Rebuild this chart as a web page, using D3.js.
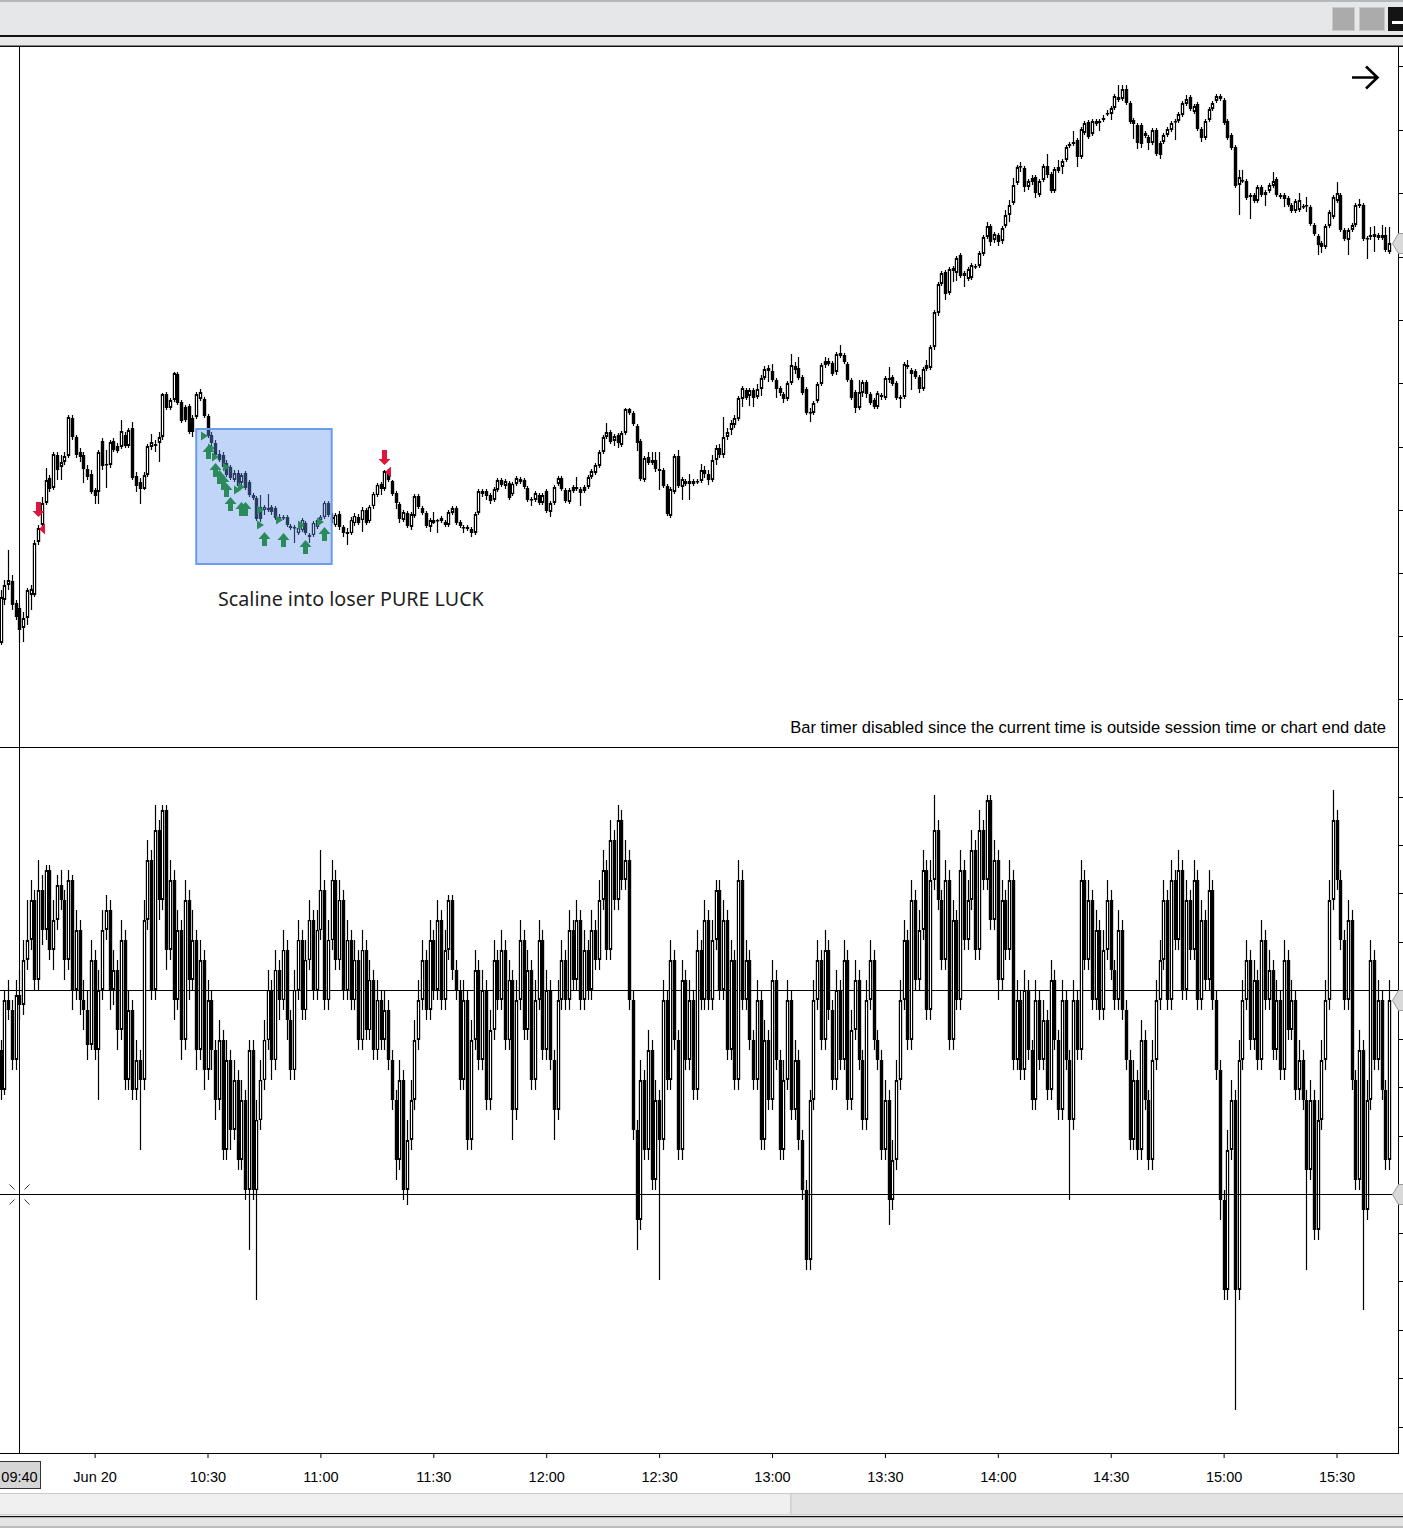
<!DOCTYPE html>
<html><head><meta charset="utf-8">
<script src="https://cdn.jsdelivr.net/npm/d3@7"></script>
<style>html,body{margin:0;padding:0;background:#fff;overflow:hidden}svg{display:block}</style>
</head><body>
<svg id="c" width="1403" height="1528"></svg>
<script>
// ---------------- DATA ----------------
const sessionStart = "09:35";            // first 1-minute bar
const upOpen = [357,400,415,419,397,392,372,382,405,405,458,475,497,522,512,545,533,538,544,582,563,548,545,531,526,510,508,559,535,535,559,554,553,565,554,572,524,518,511,525,553,554,557,563,606,592,600,626,598,593,594,582,583,601,601,584,565,557,546,545,537,533,520,527,517,527,518,505,502,493,490,492,493,492,482,482,483,474,472,467,470,477,465,465,473,480,483,497,483,475,486,473,466,467,477,483,480,490,479,494,505,516,511,529,519,507,496,480,487,473,484,504,492,487,473,477,480,479,478,475,487,492,478,473,471,471,467,487,506,509,505,500,510,520,514,517,506,516,518,520,512,501,500,505,497,509,488,497,516,522,510,498,509,513,511,509,513,523,527,534,548,563,568,559,565,555,567,591,587,574,559,520,543,537,540,531,530,514,484,508,544,513,516,519,516,519,519,530,526,520,540,552,545,563,570,575,581,601,610,604,610,603,611,622,632,629,620,612,606,601,617,634,632,623,611,587,587,599,616,635,639,637,628,647,645,636,620,608,592,607,618,606,600,593,605,602,622,623,617,601,603,635,630,629,623,611,631,632,653,687,716,728,707,732,727,745,724,721,722,733,734,746,763,774,760,765,759,774,785,797,817,833,832,813,818,823,805,820,834,826,809,829,833,840,856,856,860,843,867,878,866,879,877,880,886,886,892,903,901,911,897,880,875,875,867,863,857,870,857,858,865,870,879,879,885,896,903,888,896,871,862,880,891,899,904,900,879,865,853,815,819,819,805,805,799,813,805,809,814,821,805,805,802,795,789,790,794,794,793,775,764,757,753,774,783,799,805,770,760,770,775,796,795,761,763,763,765,762,765,748];
const upHigh = [410,420,450,425,400,395,388,412,415,460,475,503,532,525,548,548,545,548,585,585,565,552,548,535,530,512,550,562,550,560,562,557,580,568,572,578,528,522,528,556,566,560,568,607,608,602,628,628,600,595,596,585,608,611,603,586,568,560,550,548,540,535,530,530,527,529,520,507,504,505,495,506,495,494,486,485,485,476,475,474,482,479,467,479,482,485,499,499,487,487,489,475,472,483,487,486,493,492,495,508,517,518,530,531,520,509,498,490,489,488,506,506,494,489,482,488,481,484,480,490,494,494,480,475,475,473,488,511,511,511,507,513,522,522,521,519,518,524,523,522,514,503,509,507,507,511,499,515,524,524,512,512,515,523,513,515,525,531,537,550,565,577,570,566,567,569,592,592,589,576,561,544,548,548,548,548,532,516,513,546,550,523,521,526,521,521,536,534,530,545,555,556,583,572,580,585,604,614,612,612,612,616,625,634,635,636,622,614,608,619,646,638,643,625,613,592,599,618,637,643,642,639,648,655,647,638,622,610,620,620,620,608,602,609,607,624,633,625,619,605,638,640,632,631,625,633,640,655,690,718,729,730,733,734,744,747,729,733,737,736,749,765,778,776,768,767,774,790,800,822,835,838,834,821,825,825,821,836,846,828,833,840,841,855,858,869,862,873,879,880,881,881,881,885,890,894,906,915,915,915,899,882,877,877,869,865,872,872,859,867,873,879,881,888,899,905,905,896,898,873,881,893,899,906,906,902,881,867,855,830,830,821,807,807,815,815,810,817,828,823,807,807,804,797,801,807,796,803,795,777,766,759,776,790,805,818,807,772,772,777,797,801,797,764,773,774,767,775,773,773];
const upLow = [355,395,410,390,380,357,358,375,390,403,455,472,495,508,510,520,520,535,542,560,542,538,517,520,506,496,496,530,512,532,548,547,551,552,552,520,508,496,510,523,550,548,538,560,590,590,598,595,577,578,566,563,581,599,582,562,554,543,538,530,523,520,518,512,515,510,503,500,479,478,485,488,485,480,478,480,473,470,457,465,468,465,457,463,471,478,481,483,477,473,470,463,455,465,474,475,468,475,477,491,503,505,509,518,504,491,477,478,472,470,482,491,485,472,468,476,467,477,473,473,485,475,472,467,469,463,465,485,503,500,496,498,508,513,511,500,504,514,516,511,498,494,498,495,495,487,483,495,514,509,497,496,507,509,494,507,511,521,525,532,546,561,556,554,552,553,565,585,574,549,519,518,535,535,528,510,512,484,482,506,512,500,514,500,514,516,517,522,515,518,535,542,542,560,565,572,579,593,600,594,593,601,604,620,618,618,602,604,597,599,615,626,620,605,585,578,585,597,614,632,634,624,625,642,636,618,600,587,590,603,602,595,591,591,600,600,617,614,600,592,601,631,610,621,607,609,629,630,650,684,714,700,705,718,719,722,713,719,720,731,732,744,761,754,757,754,756,772,778,795,815,828,808,810,815,802,803,818,822,807,807,827,826,838,852,854,833,841,865,861,864,874,869,878,884,880,890,898,899,895,876,861,851,852,862,850,855,844,841,856,863,868,860,877,883,894,889,886,869,858,860,878,889,897,899,875,860,850,812,785,817,800,781,797,797,803,794,807,812,803,801,793,793,787,787,788,791,788,774,764,745,747,751,772,781,797,768,759,745,768,773,792,759,741,760,748,760,760,748,746];
const upClose = [403,415,420,395,383,370,382,410,411,457,472,497,520,511,546,530,538,544,583,563,545,543,531,523,508,504,548,534,536,558,550,549,569,554,570,522,514,511,525,554,558,556,563,606,592,600,627,597,579,580,568,568,606,608,584,564,557,545,540,533,525,522,527,514,525,512,505,502,481,481,493,490,488,482,483,483,475,472,473,472,480,467,463,477,480,483,497,485,481,485,473,467,468,480,484,477,490,477,493,506,515,511,529,520,506,497,481,488,474,486,504,493,487,474,480,480,479,482,475,488,492,477,474,472,473,467,486,509,509,504,499,511,520,515,519,502,516,522,521,513,500,500,507,497,505,489,497,513,522,511,499,510,513,511,507,513,523,529,535,548,563,568,558,564,557,567,591,587,576,557,521,542,537,540,531,529,514,486,511,544,514,521,519,516,519,518,530,526,520,540,552,545,563,568,577,582,602,612,602,610,602,611,622,631,629,620,611,607,601,617,635,630,622,607,587,588,597,616,635,639,636,626,646,644,638,620,602,592,608,618,606,597,593,607,603,622,620,616,602,603,636,633,626,623,611,631,635,653,688,716,727,706,731,729,742,724,727,731,735,734,747,763,774,758,766,758,772,785,795,815,833,834,813,819,822,807,819,834,825,809,831,833,839,853,854,858,843,871,877,863,879,876,879,882,887,892,904,900,911,897,878,876,857,856,864,857,870,846,845,865,871,877,878,886,897,901,891,894,871,862,879,891,897,904,901,877,862,852,814,823,820,802,803,799,813,805,808,815,819,805,803,801,795,789,799,800,793,795,776,766,755,753,774,788,803,807,770,761,770,775,795,794,761,762,765,766,762,765,750,757];

const lowOpen = [-60,-100,-10,-20,-70,-5,-15,30,50,90,10,100,60,120,40,70,105,90,30,110,0,60,-10,-20,-55,30,-60,0,60,80,0,20,-40,50,-90,-20,-100,-70,-90,70,130,0,160,90,180,40,110,-10,60,-50,90,10,50,-60,30,-80,-10,-60,-110,-50,-160,-70,-140,-90,-170,-110,-200,-60,-200,-130,-90,-50,0,-70,20,-10,40,-30,-80,0,50,-20,30,70,0,60,100,-10,50,110,30,90,0,50,-10,30,-50,40,-40,10,-60,-10,-50,-20,-70,-110,-170,-90,-200,-150,-110,-50,-10,30,-20,50,0,70,-10,40,90,20,0,-90,-10,-150,-50,20,-70,0,-110,-40,30,-10,40,-50,10,-120,-10,50,-40,20,-90,-10,50,-60,0,-70,-120,-10,30,-10,60,10,70,-10,40,0,60,30,90,120,40,150,90,170,110,130,-10,-140,-230,-90,-160,-60,-190,-110,-150,-10,-90,30,-50,-160,10,-70,-10,-100,40,-10,70,-10,50,100,0,70,-60,30,-90,110,-10,30,-50,-90,-10,-150,-50,-110,10,-70,-160,-90,-10,-120,-70,-150,-200,-270,-110,-10,30,-50,40,-20,-90,0,-70,30,-110,-40,10,-70,-130,-10,30,-50,-70,-160,-110,-210,-170,-90,-10,50,-50,90,10,60,120,-20,110,160,90,30,110,-50,70,-10,120,50,90,140,40,160,110,190,70,130,10,90,40,110,-70,-10,-80,0,-60,-110,-10,-70,-30,-100,10,-50,-120,-10,-70,-130,-10,-60,110,30,90,-10,60,-20,40,90,20,-10,60,-20,-70,-150,-90,-160,-50,-110,-170,-70,-10,30,90,-10,110,50,120,0,90,40,110,-10,70,10,100,-10,-80,-210,-300,-160,-110,-300,-70,-10,30,-50,10,-70,50,-10,20,-60,-10,-80,30,-40,-10,-100,-70,-110,-180,-110,-240,-130,-70,-10,90,170,110,50,-10,70,-90,-190,-60,-220,-110,30,-70,-10,-100,-170];
const lowHigh = [-50,0,10,-10,10,20,50,90,110,100,130,115,125,125,90,115,120,100,120,115,80,70,10,0,50,40,20,80,95,90,40,30,70,60,0,-10,-50,-60,90,150,140,185,170,185,185,130,120,80,70,110,100,80,60,50,40,10,0,-50,-30,-40,-50,-60,-70,-80,-90,-100,-50,-50,-110,-70,-30,20,10,40,30,60,50,-20,20,70,60,50,90,80,80,140,110,70,130,120,110,100,70,60,50,40,60,50,30,20,10,0,0,-10,-60,-100,-70,-80,-130,-90,-30,10,50,40,70,60,90,80,60,95,95,30,10,10,0,-30,40,30,20,10,-20,50,40,60,50,30,20,10,70,60,40,30,10,70,60,20,10,-60,10,50,40,80,70,90,80,60,50,80,70,110,140,130,170,160,185,180,150,140,0,-130,-70,-80,-40,-50,-90,-100,10,0,50,40,-40,30,20,10,0,60,50,90,80,70,110,110,90,80,50,40,130,120,50,40,-40,10,0,-30,-40,30,20,-60,-70,10,0,-50,-60,-140,-190,-100,10,50,40,60,50,-10,20,10,50,40,-20,30,20,-60,10,50,40,-40,-60,-90,-100,-150,-70,10,70,60,110,100,80,140,130,130,195,170,100,130,120,90,80,140,130,110,160,150,180,170,195,195,150,140,110,100,130,120,10,0,20,10,-50,10,0,-10,-20,30,20,-40,10,0,-60,10,0,130,120,110,100,80,70,60,110,100,30,80,70,-10,-60,-70,-80,-30,-40,-100,-50,10,50,110,100,130,120,140,130,110,100,130,120,90,80,120,110,0,-70,-200,-140,-90,-100,-50,10,50,40,30,20,70,60,40,30,10,0,50,40,10,0,-50,-60,-100,-90,-100,-110,-50,10,110,200,180,120,60,90,80,-80,-40,-50,-90,50,40,10,0,-90,10];
const lowLow = [-110,-105,-30,-80,-80,-30,-25,20,40,0,0,45,50,30,20,60,80,10,20,-20,-10,-25,-40,-70,-60,-70,-110,-10,50,-20,-15,-60,-50,-100,-100,-110,-110,-160,-100,60,-10,-10,70,80,20,30,-30,-20,-70,-60,-10,0,-80,-70,-100,-90,-80,-130,-120,-170,-170,-160,-150,-180,-180,-210,-260,-210,-310,-140,-100,-60,-90,-80,-30,-20,-50,-90,-90,-10,-30,-30,20,-10,-10,50,-20,-20,40,20,20,-10,-10,-20,-20,-60,-60,-50,-50,-70,-70,-60,-60,-80,-120,-190,-180,-210,-215,-160,-120,-60,-20,-30,-30,-10,-10,-20,-20,30,10,-10,-100,-100,-160,-160,-60,-80,-80,-120,-120,-50,-20,-20,-60,-60,-150,-130,-20,-50,-50,-100,-100,-20,-70,-70,-80,-150,-130,-20,-20,-20,0,0,-20,-20,-10,-10,20,20,80,30,30,80,80,100,100,-20,-150,-260,-240,-170,-170,-200,-200,-290,-160,-100,-100,-60,-170,-170,-80,-80,-110,-110,-20,-20,-20,-20,40,-10,-10,-70,-70,-100,-100,-20,-20,-60,-100,-100,-160,-160,-120,-120,-80,-170,-170,-100,-130,-130,-160,-210,-280,-280,-120,-20,-60,-60,-30,-100,-100,-80,-80,-120,-120,-50,-80,-140,-140,-20,-60,-80,-170,-170,-235,-220,-180,-100,-20,-60,-60,0,0,50,-30,-30,100,80,20,20,-60,-60,-20,-20,40,40,80,30,30,100,100,60,60,-10,0,30,30,-80,-80,-90,-90,-70,-120,-120,-80,-80,-110,-110,-60,-130,-130,-80,-210,-140,-70,-70,20,20,-20,-20,-30,-30,30,10,-20,-20,-30,-80,-160,-160,-170,-170,-120,-180,-180,-80,-20,20,-20,-20,40,40,-10,-10,30,30,-20,-20,0,0,-20,-90,-230,-310,-310,-170,-420,-310,-80,-20,-60,-60,-80,-80,-20,-20,-70,-70,-90,-90,-50,-50,-110,-110,-120,-280,-190,-250,-250,-140,-80,-20,80,100,40,-20,-20,-100,-200,-200,-320,-230,-120,-80,-80,-110,-180,-180];
const lowClose = [-100,-10,-20,-70,-5,-15,30,50,90,10,100,60,120,40,70,105,90,30,110,0,60,-10,-20,-55,30,-60,0,60,80,0,20,-40,50,-90,-20,-100,-70,-90,70,130,0,160,90,180,40,110,-10,60,-50,90,10,50,-60,30,-80,-10,-60,-110,-50,-160,-70,-140,-90,-170,-110,-200,-60,-200,-130,-90,-50,0,-70,20,-10,40,-30,-80,0,50,-20,30,70,0,60,100,-10,50,110,30,90,0,50,-10,30,-50,40,-40,10,-60,-10,-50,-20,-70,-110,-170,-90,-200,-150,-110,-50,-10,30,-20,50,0,70,-10,40,90,20,0,-90,-10,-150,-50,20,-70,0,-110,-40,30,-10,40,-50,10,-120,-10,50,-40,20,-90,-10,50,-60,0,-70,-120,-10,30,-10,60,10,70,-10,40,0,60,30,90,120,40,150,90,170,110,130,-10,-140,-230,-90,-160,-60,-190,-110,-150,-10,-90,30,-50,-160,10,-70,-10,-100,40,-10,70,-10,50,100,0,70,-60,30,-90,110,-10,30,-50,-90,-10,-150,-50,-110,10,-70,-160,-90,-10,-120,-70,-150,-200,-270,-110,-10,30,-50,40,-20,-90,0,-70,30,-110,-40,10,-70,-130,-10,30,-50,-70,-160,-110,-210,-170,-90,-10,50,-50,90,10,60,120,-20,110,160,90,30,110,-50,70,-10,120,50,90,140,40,160,110,190,70,130,10,90,40,110,-70,-10,-80,0,-60,-110,-10,-70,-30,-100,10,-50,-120,-10,-70,-130,-10,-60,110,30,90,-10,60,-20,40,90,20,-10,60,-20,-70,-150,-90,-160,-50,-110,-170,-70,-10,30,90,-10,110,50,120,0,90,40,110,-10,70,10,100,-10,-80,-210,-300,-160,-110,-300,-70,-10,30,-50,10,-70,50,-10,20,-60,-10,-80,30,-40,-10,-100,-70,-110,-180,-110,-240,-130,-70,-10,90,170,110,50,-10,70,-90,-190,-60,-220,-110,30,-70,-10,-100,-170,-10];

const timeTicks  = ["10:00","10:30","11:00","11:30","12:00","12:30","13:00","13:30","14:00","14:30","15:00","15:30"];
const tickLabels = ["Jun 20","10:30","11:00","11:30","12:00","12:30","13:00","13:30","14:00","14:30","15:00","15:30"];
const upPriceTicks  = [934,870,807,743,680,617,553,490,427,364,301];
const lowValueTicks = [193,145,97,48,0,-49,-97,-146,-194,-243,-291,-340,-388,-437];
const zeroLevel = [0];
const crosshairTime = ["09:40"];
const crosshairValue = [-204];
const boxTimes  = ["10:27","11:03"];
const boxPrices = [571,436];
const greenUpArrows  = [[55,555],[57,537],[58,530],[59,525],[60,517],[61,503],[64,498],[65,498],[70,468],[75,467],[81,460],[86,473]];
const greenTriangles = [[55,564],[57,552],[58,543],[61,533],[64,510],[65,513],[70,490],[70,475],[75,480],[81,475],[86,478]];
const redDownArrows  = [[10,483],[102,535]];
const redTriangles   = [[10,471],[102,528]];
const noteText  = "Scaline into loser PURE LUCK";
const timerText = "Bar timer disabled since the current time is outside session time or chart end date";

// ---------------- SCALES ----------------
const W = 1403, H = 1528;
const svg = d3.select("#c");
const P = s => { const [h,m] = s.split(":").map(Number); return new Date(2024,5,20,h,m); };
const t0 = P(sessionStart);
const x = d3.scaleTime().domain([t0, d3.timeMinute.offset(t0, 372)]).range([0.52, 1400.5]);
const yUp  = d3.scaleLinear().domain([253, 953]).range([747, 47]);
const yLow = d3.scaleLinear().domain([-462, 242]).range([1452, 748]);
const bx = i => Math.round(x(d3.timeMinute.offset(t0, i)));

// ---------------- CHROME ----------------
svg.append("rect").attr("width",W).attr("height",H).attr("fill","#fff");
svg.append("rect").attr("x",0).attr("y",0).attr("width",W).attr("height",36).attr("fill","#e6e7e9");
svg.append("rect").attr("x",0).attr("y",0).attr("width",W).attr("height",2).attr("fill","#b7b7b7");
[[1332,22],[1359,25]].forEach(([px,pw])=>{
  svg.append("rect").attr("x",px+0.5).attr("y",7.5).attr("width",pw).attr("height",23).attr("fill","#ababab").attr("stroke","#c9c9c9");
});
svg.append("rect").attr("x",1388).attr("y",7).attr("width",15).attr("height",24).attr("fill","#141414");
svg.append("rect").attr("x",1392).attr("y",21).attr("width",11).attr("height",3).attr("fill","#fff");
svg.append("rect").attr("x",0).attr("y",35).attr("width",W).attr("height",2).attr("fill","#111");
svg.append("rect").attr("x",0).attr("y",37).attr("width",W).attr("height",8.5).attr("fill","#e8e8e8");
svg.append("rect").attr("x",0).attr("y",45.5).attr("width",W).attr("height",1.5).attr("fill","#111");

// bottom chrome
svg.append("rect").attr("x",0).attr("y",1493).attr("width",W).attr("height",1).attr("fill","#c8c8c8");
svg.append("rect").attr("x",0).attr("y",1494).attr("width",791).attr("height",20).attr("fill","#f0f0f0");
svg.append("rect").attr("x",791).attr("y",1494).attr("width",W-791).attr("height",20).attr("fill","#e3e3e3");
svg.append("rect").attr("x",790).attr("y",1494).attr("width",1.5).attr("height",20).attr("fill","#cfcfcf");
svg.append("rect").attr("x",0).attr("y",1514).attr("width",W).attr("height",1.5).attr("fill","#cfcfcf");
svg.append("rect").attr("x",0).attr("y",1516).attr("width",W).attr("height",1.5).attr("fill","#111");
svg.append("rect").attr("x",0).attr("y",1517.5).attr("width",W).attr("height",10.5).attr("fill","#e4e4e4");
svg.append("rect").attr("x",0).attr("y",1526).attr("width",W).attr("height",2).attr("fill","#bdbdbd");

// ---------------- PANELS ----------------
const defs = svg.append("defs");
defs.append("clipPath").attr("id","cu").append("rect").attr("x",0).attr("y",47).attr("width",1398).attr("height",700);
defs.append("clipPath").attr("id","cl").append("rect").attr("x",0).attr("y",748).attr("width",1398).attr("height",705);

const gl = svg.append("g").attr("clip-path","url(#cl)");
gl.selectAll("line.z").data(zeroLevel).join("line")
  .attr("x1",0).attr("x2",1398).attr("y1",d=>Math.round(yLow(d))+0.5).attr("y2",d=>Math.round(yLow(d))+0.5)
  .attr("stroke","#000").attr("stroke-width",1);

function drawCandles(g, O, Hh, L, C, y){
  const data = d3.range(O.length).map(i=>({i,o:O[i],h:Math.max(Hh[i],O[i],C[i]),l:Math.min(L[i],O[i],C[i]),c:C[i]}));
  const k = g.selectAll("g.k").data(data).join("g").attr("class","k");
  k.append("line")
    .attr("x1",d=>bx(d.i)+0.5).attr("x2",d=>bx(d.i)+0.5)
    .attr("y1",d=>Math.round(y(d.h))).attr("y2",d=>Math.round(y(d.l)))
    .attr("stroke","#000").attr("stroke-width",1.2);
  k.each(function(d){
    const top = Math.round(y(Math.max(d.o,d.c))), bot = Math.round(y(Math.min(d.o,d.c)));
    const cx = bx(d.i), s = d3.select(this);
    if (d.c > d.o && bot-top >= 3){
      s.append("rect").attr("x",cx-0.6).attr("y",top+0.6).attr("width",2.2).attr("height",bot-top-1.2)
        .attr("fill","#fff").attr("stroke","#000").attr("stroke-width",1.2);
    } else {
      s.append("rect").attr("x",cx-1.2).attr("y",top).attr("width",3.4).attr("height",Math.max(bot-top,1.5)).attr("fill","#000");
    }
  });
}
const gu = svg.append("g").attr("clip-path","url(#cu)");
drawCandles(gu, upOpen, upHigh, upLow, upClose, yUp);
drawCandles(gl, lowOpen, lowHigh, lowLow, lowClose, yLow);

gl.selectAll("line.ch").data(crosshairValue).join("line")
  .attr("x1",0).attr("x2",1398).attr("y1",d=>Math.round(yLow(d))+0.5).attr("y2",d=>Math.round(yLow(d))+0.5)
  .attr("stroke","#000").attr("stroke-width",1);

// highlight box
const bxs = boxTimes.map(P);
gu.append("rect")
  .attr("x",x(bxs[0])).attr("y",yUp(boxPrices[0]))
  .attr("width",x(bxs[1])-x(bxs[0])).attr("height",yUp(boxPrices[1])-yUp(boxPrices[0]))
  .attr("fill","rgba(100,149,237,0.40)").attr("stroke","#6a9cf0").attr("stroke-width",2);

// markers
const upArrow = (cx,ty)=>`M${cx},${ty} L${cx+6},${ty+7} L${cx+2.5},${ty+7} L${cx+2.5},${ty+14} L${cx-2.5},${ty+14} L${cx-2.5},${ty+7} L${cx-6},${ty+7} Z`;
const downArrow = (cx,by)=>`M${cx},${by} L${cx+6},${by-6} L${cx+2.5},${by-6} L${cx+2.5},${by-15} L${cx-2.5},${by-15} L${cx-2.5},${by-6} L${cx-6},${by-6} Z`;
gu.selectAll("path.ga").data(greenUpArrows).join("path")
  .attr("d",d=>upArrow(bx(d[0])+0.5, yUp(d[1]))).attr("fill","#2a8a5c");
gu.selectAll("path.gt").data(greenTriangles).join("path")
  .attr("d",d=>{const cx=bx(d[0]), cy=yUp(d[1]); return `M${cx-7},${cy-4.5} L${cx},${cy} L${cx-7},${cy+4.5} Z`;})
  .attr("fill","#2a8a5c");
gu.selectAll("path.rd").data(redDownArrows).join("path")
  .attr("d",d=>downArrow(bx(d[0])+0.5, yUp(d[1]))).attr("fill","#e0143c");
gu.selectAll("path.rt").data(redTriangles).join("path")
  .attr("d",d=>{const cx=bx(d[0]), cy=yUp(d[1]); return `M${cx+1},${cy} L${cx+7},${cy-5.5} L${cx+7},${cy+5.5} Z`;})
  .attr("fill","#e0143c");

// annotation text
const note = svg.append("text").attr("x",218).attr("y",606).attr("font-family","'Noto Sans', 'Open Sans', sans-serif")
  .attr("font-size",19).attr("fill","#1e1e1e").text(noteText);
{ const w = note.node().getComputedTextLength(); note.attr("font-size", 19*266/w); }

const timer = svg.append("text").attr("x",1386).attr("y",733).attr("text-anchor","end")
  .attr("font-family","'Liberation Sans', Arial, sans-serif").attr("font-size",15).attr("fill","#000").text(timerText);
{ const w = timer.node().getComputedTextLength(); timer.attr("font-size", 15*596/w); }

// arrow icon top-right
svg.append("path").attr("d","M1352,77.5 L1377,77.5 M1366,66.5 L1377.5,77.5 L1366,88.5")
  .attr("fill","none").attr("stroke","#000").attr("stroke-width",2.6);

// panel separator
svg.append("line").attr("x1",0).attr("x2",1399).attr("y1",747.5).attr("y2",747.5).attr("stroke","#000");

// right axis
svg.append("line").attr("x1",1398.5).attr("x2",1398.5).attr("y1",47).attr("y2",1454).attr("stroke","#000");
const ra = d3.axisRight(yUp).tickValues(upPriceTicks).tickSize(5).tickFormat("");
svg.append("g").attr("transform","translate(1398,0)").call(ra).call(g=>g.select(".domain").remove());
const rb = d3.axisRight(yLow).tickValues(lowValueTicks).tickSize(5).tickFormat("");
svg.append("g").attr("transform","translate(1398,0)").call(rb).call(g=>g.select(".domain").remove());

function flag(yc){
  svg.append("path").attr("d",`M1392.5,${yc} L1398.5,${yc-10} L1404,${yc-10} L1404,${yc+10} L1398.5,${yc+10} Z`)
    .attr("fill","#d9d9d9").attr("stroke","#9a9a9a").attr("stroke-width",1);
}
flag(Math.round(yUp(upClose[upClose.length-1]))+0.5);
flag(Math.round(yLow(lowClose[lowClose.length-1]))+0.5);
flag(Math.round(yLow(crosshairValue[0]))+0.5);

// time axis
svg.append("line").attr("x1",0).attr("x2",1399).attr("y1",1453.5).attr("y2",1453.5).attr("stroke","#000");
const ax = d3.axisBottom(x).tickValues(timeTicks.map(P)).tickFormat((d,i)=>tickLabels[i])
  .tickSize(5).tickPadding(14).tickSizeOuter(0);
const ag = svg.append("g").attr("transform","translate(0,1453)").call(ax);
ag.select(".domain").remove();
ag.selectAll(".tick line").attr("stroke","#000");
ag.selectAll(".tick text").attr("font-family","'Liberation Sans', Arial, sans-serif").attr("font-size",14.5).attr("fill","#000");

// crosshair
const ct = P(crosshairTime[0]);
const cxv = Math.round(x(ct))+0.5;
svg.append("line").attr("x1",cxv).attr("x2",cxv).attr("y1",47).attr("y2",1453).attr("stroke","#000");
const cyv = Math.round(yLow(crosshairValue[0]))+0.5;
[[-1,-1],[1,-1],[-1,1],[1,1]].forEach(([sx,sy])=>{
  svg.append("line").attr("x1",cxv+sx*5).attr("y1",cyv+sy*5).attr("x2",cxv+sx*10).attr("y2",cyv+sy*10)
    .attr("stroke","#333").attr("stroke-width",1);
});
svg.append("rect").attr("x",-0.5).attr("y",1461.5).attr("width",41).attr("height",27).attr("fill","#d6d6d6").attr("stroke","#333");
svg.append("text").attr("x",19.5).attr("y",1482).attr("text-anchor","middle")
  .attr("font-family","'Liberation Sans', Arial, sans-serif").attr("font-size",14.5).attr("fill","#000").text(crosshairTime[0]);
</script>
</body></html>
